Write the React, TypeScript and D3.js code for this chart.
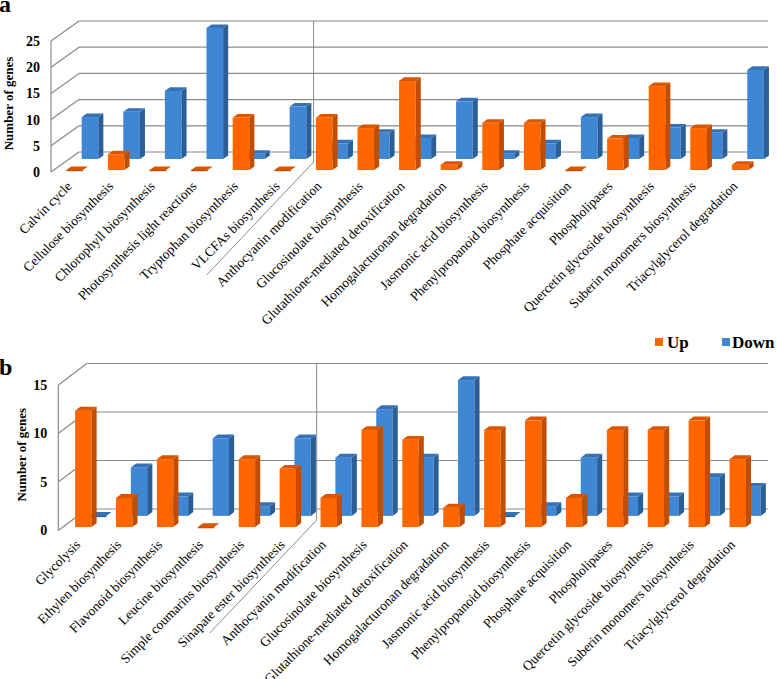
import React from "react";
import * as d3 from "d3";

const catsA = [
  "Calvin cycle",
  "Cellulose biosynthesis",
  "Chlorophyll biosynthesis",
  "Photosynthesis light reactions",
  "Tryptophan biosynthesis",
  "VLCFAs biosynthesis",
  "Anthocyanin modification",
  "Glucosinolate biosynthesis",
  "Glutathione-mediated detoxification",
  "Homogalacturonan degradation",
  "Jasmonic acid biosynthesis",
  "Phenylpropanoid biosynthesis",
  "Phosphate acquisition",
  "Phospholipases",
  "Quercetin glycoside biosynthesis",
  "Suberin monomers biosynthesis",
  "Triacylglycerol degradation",
];
const upA = [0, 3, 0, 0, 10, 0, 10, 8, 17, 1, 9, 9, 0, 6, 16, 8, 1];
const downA = [8, 9, 13, 25, 1, 10, 3, 5, 4, 11, 1, 3, 8, 4, 6, 5, 17];
const ticksA = [0, 5, 10, 15, 20, 25];

const catsB = [
  "Glycolysis",
  "Ethylen biosynthesis",
  "Flavonoid biosynthesis",
  "Leucine biosynthesis",
  "Simple coumarins biosynthesis",
  "Sinapate ester biosynthesis",
  "Anthocyanin modification",
  "Glucosinolate biosynthesis",
  "Glutathione-mediated detoxification",
  "Homogalacturonan degradation",
  "Jasmonic acid biosynthesis",
  "Phenylpropanoid biosynthesis",
  "Phosphate acquisition",
  "Phospholipases",
  "Quercetin glycoside biosynthesis",
  "Suberin monomers biosynthesis",
  "Triacylglycerol degradation",
];
const upB = [12, 3, 7, 0, 7, 6, 3, 10, 9, 2, 10, 11, 3, 10, 10, 11, 7];
const downB = [0, 5, 2, 8, 1, 8, 6, 11, 6, 14, 0, 1, 6, 2, 2, 4, 3];
const ticksB = [0, 5, 10, 15];

const seriesNames = ["Up", "Down"];

const ORANGE = { front: "#FF6600", side: "#C24C00", top: "#DA5600" };
const BLUE = { front: "#3F87D4", side: "#2A5E96", top: "#3672B6" };
const GRID = "#8a8a8a";
const SERIF = "Liberation Serif";

type Cfg = {
  x0: number;
  y0: number;
  yTop: number;
  step: number;
  ddx: number;
  ddy: number;
  fO: number;
  fB: number;
  backRight: number;
  letter: string;
  letterY: number;
  letterSize: number;
  titleX: number;
  divTurn: number;
};

function Bar({ x, yb, yt, w, sx, sy, c }: any) {
  const pts = (a: number[][]) => a.map((p) => p.join(",")).join(" ");
  return (
    <g>
      {yb - yt > 0.5 && <rect x={x} y={yt} width={w} height={yb - yt} fill={c.front} />}
      {yb - yt > 0.5 && (
        <polygon points={pts([[x + w, yt], [x + w + sx, yt + sy], [x + w + sx, yb + sy], [x + w, yb]])} fill={c.side} />
      )}
      <polygon points={pts([[x, yt], [x + w, yt], [x + w + sx, yt + sy], [x + sx, yt + sy]])} fill={c.top} />
      {yb - yt <= 0.5 && <rect x={x} y={yt} width={w} height={1.2} fill={c.side} />}
    </g>
  );
}

function Panel({ cats, up, down, ticks, cfg }: { cats: string[]; up: number[]; down: number[]; ticks: number[]; cfg: Cfg }) {
  const n = cats.length;
  const x = d3.scaleBand<string>().domain(cats).range([cfg.x0, cfg.x0 + cfg.step * n]).paddingInner(0.6).paddingOuter(0.3);
  const maxV = ticks[ticks.length - 1];
  const y = d3.scaleLinear().domain([0, maxV]).range([cfg.y0, cfg.yTop]);
  const w = x.bandwidth();
  const t = 0.18;
  const sx = cfg.ddx * t;
  const sy = cfg.ddy * t;
  const bx = cfg.x0 + cfg.ddx;
  const divX = cfg.x0 + cfg.step * 6 + 13;
  const divTop = y(maxV) + cfg.ddy;
  return (
    <g style={{ fontFamily: SERIF }}>
      {ticks.map((v) => (
        <g key={v}>
          <line x1={bx} x2={cfg.backRight} y1={y(v) + cfg.ddy} y2={y(v) + cfg.ddy} stroke={GRID} strokeWidth={1.2} />
          <line x1={cfg.x0} x2={bx} y1={y(v)} y2={y(v) + cfg.ddy} stroke={GRID} strokeWidth={1.2} />
          <text x={cfg.x0 - 11} y={y(v)} dy="0.35em" textAnchor="end" fontWeight="bold" fontSize={14}>
            {v}
          </text>
        </g>
      ))}
      <line x1={cfg.x0} x2={cfg.x0} y1={y(0)} y2={y(maxV)} stroke={GRID} strokeWidth={1.2} />
      <polyline
        points={`${divX},${divTop} ${divX},${cfg.divTurn} ${divX - 107},${cfg.divTurn + 113}`}
        fill="none"
        stroke={GRID}
        strokeWidth={1}
      />
      {cats.map((c, i) => {
        const xx = (x(c) as number) + cfg.ddx * cfg.fB;
        const yb = y(0) + cfg.ddy * cfg.fB;
        const yt = y(down[i]) + cfg.ddy * cfg.fB;
        return <Bar key={"d" + i} x={xx} yb={yb} yt={yt} w={w} sx={sx} sy={sy} c={BLUE} />;
      })}
      {cats.map((c, i) => {
        const xx = (x(c) as number) + cfg.ddx * cfg.fO;
        const yb = y(0) + cfg.ddy * cfg.fO;
        const yt = y(up[i]) + cfg.ddy * cfg.fO;
        return <Bar key={"u" + i} x={xx} yb={yb} yt={yt} w={w} sx={sx} sy={sy} c={ORANGE} />;
      })}
      {cats.map((c, i) => {
        const lx = (x(c) as number) + w / 2 + cfg.ddx * cfg.fO - 2;
        const ly = cfg.y0 + 15;
        return (
          <text key={"l" + i} transform={`translate(${lx},${ly}) rotate(-45)`} textAnchor="end" fontSize={13.5}>
            {c}
          </text>
        );
      })}
      <text
        transform={`translate(${cfg.titleX},${(y(0) + y(maxV)) / 2 - 3}) rotate(-90)`}
        textAnchor="middle"
        fontWeight="bold"
        fontSize={13}
      >
        Number of genes
      </text>
      <text x={-1} y={cfg.letterY} fontWeight="bold" fontSize={cfg.letterSize}>
        {cfg.letter}
      </text>
    </g>
  );
}

const cfgA: Cfg = {
  x0: 51,
  y0: 172,
  yTop: 41,
  step: 41.6,
  ddx: 28,
  ddy: -20,
  fO: 0.1,
  fB: 0.65,
  backRight: 768,
  letter: "a",
  letterY: 12,
  letterSize: 24,
  titleX: 12.5,
  divTurn: 162,
};

const cfgB: Cfg = {
  x0: 58.3,
  y0: 530.5,
  yTop: 385,
  step: 40.9,
  ddx: 28.5,
  ddy: -21.5,
  fO: 0.16,
  fB: 0.68,
  backRight: 768,
  letter: "b",
  letterY: 375,
  letterSize: 24,
  titleX: 25.5,
  divTurn: 520,
};

export default function App() {
  return (
    <svg width={778} height={679} style={{ position: "absolute", left: 0, top: 0, background: "#fff", fontFamily: SERIF }}>
      <rect width={778} height={679} fill="#fff" />
      <Panel cats={catsA} up={upA} down={downA} ticks={ticksA} cfg={cfgA} />
      <Panel cats={catsB} up={upB} down={downB} ticks={ticksB} cfg={cfgB} />
      <g>
        <rect x={655} y={338} width={8} height={8} fill={ORANGE.front} />
        <text x={667} y={348} fontWeight="bold" fontSize={17}>
          {seriesNames[0]}
        </text>
        <rect x={722} y={338} width={8} height={8} fill={BLUE.front} />
        <text x={732} y={348} fontWeight="bold" fontSize={17}>
          {seriesNames[1]}
        </text>
      </g>
    </svg>
  );
}
